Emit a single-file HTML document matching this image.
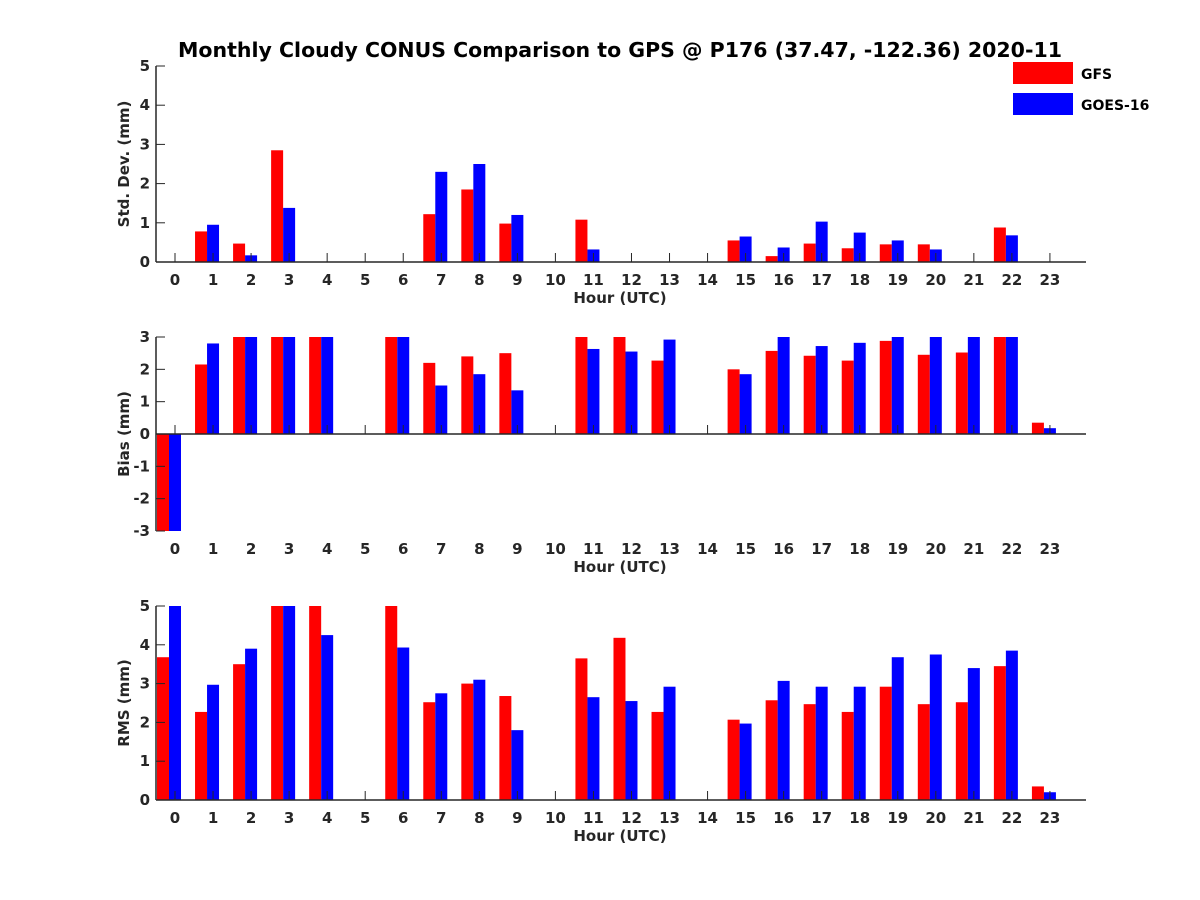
<!DOCTYPE html>
<html><head><meta charset="utf-8"><style>
body{margin:0;background:#fff}
svg{display:block;font-family:"DejaVu Sans","Liberation Sans",sans-serif;font-weight:bold}
</style></head><body>
<svg id="c" width="1200" height="900"></svg>
<script>
const hours=[...Array(24).keys()];
const stdGFS=[null,0.78,0.47,2.85,null,null,null,1.22,1.85,0.98,null,1.08,null,null,null,0.55,0.15,0.47,0.35,0.45,0.45,null,0.88,null];
const stdGOES=[null,0.95,0.17,1.38,null,null,null,2.3,2.5,1.2,null,0.32,null,null,null,0.65,0.37,1.03,0.75,0.55,0.32,null,0.68,null];
const biasGFS=[-3,2.15,3,3,3,null,3,2.2,2.4,2.5,null,3,3,2.27,null,2.0,2.57,2.42,2.27,2.88,2.45,2.52,3,0.35];
const biasGOES=[-3,2.8,3,3,3,null,3,1.5,1.85,1.35,null,2.63,2.55,2.92,null,1.85,3,2.72,2.82,3,3,3,3,0.18];
const rmsGFS=[3.68,2.27,3.5,5,5,null,5,2.52,3.0,2.68,null,3.65,4.18,2.27,null,2.07,2.57,2.47,2.27,2.92,2.47,2.52,3.45,0.35];
const rmsGOES=[5,2.97,3.9,5,4.25,null,3.93,2.75,3.1,1.8,null,2.65,2.55,2.92,null,1.97,3.07,2.92,2.92,3.68,3.75,3.4,3.85,0.2];
const NS='http://www.w3.org/2000/svg';
const svg=document.getElementById('c');
function mk(t,a,p){const e=document.createElementNS(NS,t);for(const k in a)e.setAttribute(k,a[k]);(p||svg).appendChild(e);return e;}
const x=h=>175+h*38.04;
function panel(name,top,bot,ymin,ymax,yticks,ylabel,g,b){
  const grp=mk('g',{});
  
  
  const y=v=>bot-(v-ymin)/(ymax-ymin)*(bot-top);
  const base=y(Math.max(ymin,0));
  [[g,'#ff0000',-18],[b,'#0000ff',-6]].forEach(([arr,col,off],si)=>{
    arr.forEach((v,i)=>{if(v===null)return;
      const yv=y(Math.max(ymin,Math.min(ymax,v)));
      const r=mk('rect',{x:x(i)+off,y:Math.min(yv,base),width:12,height:Math.abs(base-yv),fill:col},grp);
      
      });
  });
  mk('line',{x1:156,x2:1086,y1:base,y2:base,stroke:'#262626','stroke-width':1.5},grp);
  mk('line',{x1:156,x2:156,y1:top,y2:bot,stroke:'#262626','stroke-width':1.5},grp);
  yticks.forEach(v=>{mk('line',{x1:156,x2:165,y1:y(v),y2:y(v),stroke:'#262626'},grp);
    const t=mk('text',{x:150,y:y(v)+5,'text-anchor':'end','font-size':15,fill:'#262626'},grp);t.textContent=v;
    });
  hours.forEach(h=>{mk('line',{x1:x(h),x2:x(h),y1:base,y2:base-9,stroke:'#262626'},grp);
    const t=mk('text',{x:x(h),y:bot+23,'text-anchor':'middle','font-size':15,fill:'#262626'},grp);t.textContent=h;
    });
  const xl=mk('text',{x:620,y:bot+41,'text-anchor':'middle','font-size':15,fill:'#262626'},grp);xl.textContent='Hour (UTC)';
  
  const cy=(top+bot)/2;
  const yl=mk('text',{x:0,y:0,transform:`translate(129,${cy}) rotate(-90)`,'text-anchor':'middle','font-size':15,fill:'#262626'},grp);yl.textContent=ylabel;
  
}
panel('std-dev-panel',66,262,0,5,[0,1,2,3,4,5],'Std. Dev. (mm)',stdGFS,stdGOES);
panel('bias-panel',337,531,-3,3,[-3,-2,-1,0,1,2,3],'Bias (mm)',biasGFS,biasGOES);
panel('rms-panel',606,800,0,5,[0,1,2,3,4,5],'RMS (mm)',rmsGFS,rmsGOES);
const ti=mk('text',{x:620,y:57,'text-anchor':'middle','font-size':20.5,fill:'#000'});
ti.textContent='Monthly Cloudy CONUS Comparison to GPS @ P176 (37.47, -122.36) 2020-11';

[['GFS','#ff0000',62],['GOES-16','#0000ff',93]].forEach(([n,c,yy])=>{
  const lg=mk('g',{});
  
  
  mk('rect',{x:1013,y:yy,width:60,height:22,fill:c},lg);
  const t=mk('text',{x:1081,y:yy+17,'font-size':14,fill:'#000'},lg);t.textContent=n;
});
</script>
</body></html>
